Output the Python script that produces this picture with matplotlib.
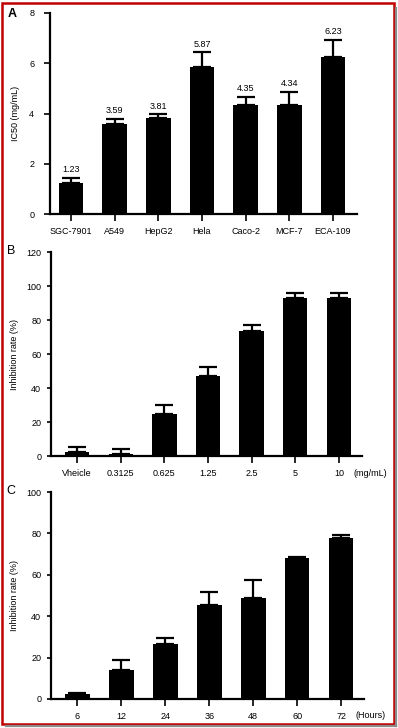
import matplotlib
matplotlib.use("Agg")
import matplotlib.pyplot as plt
from matplotlib.lines import Line2D
from matplotlib.patches import Rectangle
import numpy as np

plt.rcParams["font.family"] = ["Liberation Sans", "DejaVu Sans"]

# panel A: IC50 per cell line
cell_lines = ["SGC-7901", "A549", "HepG2", "Hela", "Caco-2", "MCF-7", "ECA-109"]
ic50 = [1.23, 3.59, 3.81, 5.87, 4.35, 4.34, 6.23]
ic50_err = [0.22, 0.20, 0.16, 0.56, 0.32, 0.53, 0.70]

# panel B: inhibition vs concentration
conc_labels = ["Vheicle", "0.3125", "0.625", "1.25", "2.5", "5", "10"]
inhib_conc = [2.3, 1.2, 24.9, 46.8, 73.4, 93.0, 93.2]
inhib_conc_err = [2.8, 2.9, 5.1, 5.5, 3.9, 2.7, 2.9]

# panel C: inhibition vs time
time_labels = ["6", "12", "24", "36", "48", "60", "72"]
inhib_time = [2.3, 13.8, 26.8, 45.5, 48.6, 68.2, 78.0]
inhib_time_err = [0.8, 4.8, 2.5, 6.1, 8.8, 0.6, 1.1]

W, H = 398, 728
fig = plt.figure(figsize=(W / 100, H / 100), dpi=100)


def px_axes(left, top, right, bottom):
    return fig.add_axes([left / W, 1 - bottom / H, (right - left) / W, (bottom - top) / H])


def bar_panel(ax, labels, vals, errs, ylim, yticks, ylabel, xlim, ytick_len, ytick_pad, label_x):
    x = np.arange(len(labels))
    ax.bar(x, vals, width=0.56, color="black", zorder=2)
    lower = [0] * len(vals)
    ax.errorbar(x, vals, yerr=[lower, errs], fmt="none", ecolor="black",
                elinewidth=1.6, capsize=6.5, capthick=1.6, zorder=3)
    ax.set_xlim(*xlim)
    ax.set_ylim(*ylim)
    ax.set_yticks(yticks)
    ax.set_xticks(x)
    ax.set_xticklabels(labels)
    for s in ["top", "right"]:
        ax.spines[s].set_visible(False)
    for s in ["left", "bottom"]:
        ax.spines[s].set_linewidth(1.6)
    ax.tick_params(axis="x", length=5, width=1.2, pad=4.5, labelsize=6.5)
    ax.tick_params(axis="y", length=ytick_len, width=1.2, pad=ytick_pad, labelsize=6.5)
    ax.set_ylabel(ylabel, fontsize=6.5)
    # right edge of the rotated label, in pixels
    bb = ax.get_position()
    ax.yaxis.set_label_coords((label_x / W - bb.x0) / bb.width, 0.5)
    ax.patch.set_visible(False)


axA = px_axes(50, 13, 357, 214)
bar_panel(axA, cell_lines, ic50, ic50_err, (0, 8), [0, 2, 4, 6, 8],
          "IC50 (mg/mL)", (-0.48, 6.55), 4.3, 7, 20)
for i, (v, e) in enumerate(zip(ic50, ic50_err)):
    axA.annotate("{:.2f}".format(v), (i, v + e), xytext=(0, 2.5),
                 textcoords="offset points", ha="center", va="bottom", fontsize=6.5)

axB = px_axes(51, 252, 362, 456)
bar_panel(axB, conc_labels, inhib_conc, inhib_conc_err, (0, 120),
          [0, 20, 40, 60, 80, 100, 120], "Inhibition rate (%)", (-0.6, 6.53), 3, 4, 19)

axC = px_axes(51, 492, 364, 699)
bar_panel(axC, time_labels, inhib_time, inhib_time_err, (0, 100),
          [0, 20, 40, 60, 80, 100], "Inhibition rate (%)", (-0.6, 6.52), 3, 4, 19)

fig.text(354 / W, 1 - 473 / H, "(mg/mL)", fontsize=6.5, ha="left", va="center")
fig.text(356 / W, 1 - 715 / H, "(Hours)", fontsize=6.5, ha="left", va="center")

fig.text(12 / W, 1 - 14 / H, "A", fontsize=9, fontweight="bold", ha="center", va="center")
fig.text(11 / W, 1 - 251 / H, "B", fontsize=9, ha="center", va="center")
fig.text(11 / W, 1 - 491 / H, "C", fontsize=9, ha="center", va="center")

# grey shadow on right and bottom, then the red frame
sx, sy = 396 / W, 1 - 726 / H
fig.lines.append(Line2D([sx, sx], [1 - 8 / H, sy], transform=fig.transFigure,
                        color="#8a8a8a", linewidth=1.6))
fig.lines.append(Line2D([6 / W, sx], [sy, sy], transform=fig.transFigure,
                        color="#8a8a8a", linewidth=1.6))
fig.patches.append(Rectangle((2 / W, 1 - 724 / H), 392 / W, 721 / H, transform=fig.transFigure,
                             fill=False, edgecolor="#c00000", linewidth=1.8))

fig.savefig("out.png", dpi=100)
